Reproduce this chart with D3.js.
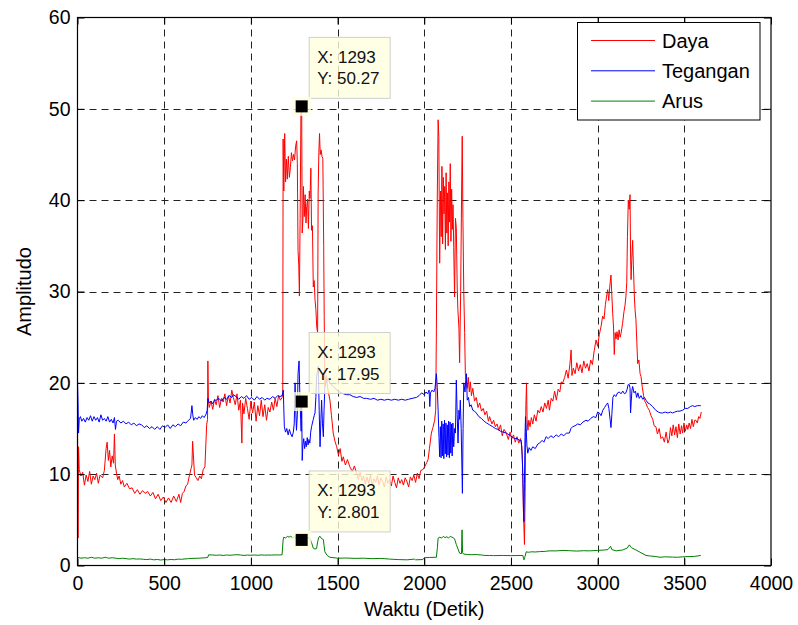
<!DOCTYPE html>
<html>
<head>
<meta charset="utf-8">
<script src="https://cdn.jsdelivr.net/npm/d3@7/dist/d3.min.js"></script>
<style>
  body { margin: 0; background: #fff; }
  svg { display: block; font-family: "Liberation Sans", Arial, sans-serif; }
</style>
</head>
<body>
<svg width="798" height="625"></svg>
<script>
// time (detik) / value pairs
var dayaT = [0,3,6,10,20,30,40,50,60,70,80,90,100,110,120,130,145,155,165,171,178,185,192,200,208,213,218,225,232,240,250,260,270,285,300,315,330,345,360,375,390,405,420,435,450,465,480,495,510,525,540,555,570,585,595,605,615,625,635,645,655,660,664,668,675,685,695,705,715,725,735,745,750,752,755,760,770,780,790,800,810,820,830,840,850,860,870,880,890,899,910,920,930,940,948,952,960,970,980,990,1000,1010,1020,1030,1040,1050,1060,1070,1080,1090,1100,1110,1120,1130,1140,1150,1160,1170,1180,1184,1186,1190,1195,1200,1205,1210,1216,1222,1228,1234,1240,1246,1252,1258,1264,1268,1272,1276,1280,1284,1289,1293,1296,1300,1303,1308,1313,1318,1322,1327,1332,1337,1341,1346,1350,1355,1360,1365,1370,1375,1380,1385,1388,1392,1396,1400,1405,1410,1415,1420,1423,1427,1435,1445,1456,1465,1475,1485,1495,1505,1515,1525,1533,1545,1557,1571,1585,1597,1610,1620,1630,1640,1650,1660,1670,1680,1690,1700,1710,1720,1730,1740,1750,1760,1770,1780,1790,1800,1810,1820,1830,1840,1850,1860,1870,1880,1890,1900,1910,1920,1930,1940,1950,1960,1970,1980,1992,2005,2015,2022,2030,2041,2050,2060,2066,2070,2075,2080,2084,2089,2094,2098,2102,2106,2110,2114,2118,2122,2126,2130,2134,2138,2142,2146,2150,2154,2158,2162,2166,2170,2175,2180,2185,2190,2194,2200,2204,2210,2215,2219,2223,2228,2233,2237,2242,2248,2254,2260,2266,2272,2280,2290,2300,2310,2320,2330,2340,2350,2360,2370,2377,2390,2400,2410,2420,2430,2440,2450,2460,2473,2485,2495,2505,2515,2525,2535,2545,2555,2563,2567,2572,2578,2582,2586,2590,2593,2598,2603,2610,2618,2626,2635,2645,2655,2665,2675,2685,2695,2705,2715,2722,2732,2742,2752,2762,2772,2782,2790,2799,2810,2820,2830,2840,2847,2852,2860,2870,2880,2890,2900,2910,2920,2930,2940,2950,2960,2970,2980,2991,3000,3010,3020,3029,3037,3045,3052,3058,3064,3070,3077,3082,3087,3092,3096,3101,3106,3112,3118,3124,3130,3135,3140,3144,3152,3158,3163,3168,3172,3177,3182,3187,3190,3193,3197,3202,3206,3212,3216,3221,3226,3231,3238,3245,3250,3258,3265,3269,3278,3288,3298,3308,3318,3326,3336,3345,3355,3365,3375,3385,3395,3405,3413,3420,3428,3436,3444,3452,3460,3468,3476,3484,3490,3498,3506,3514,3520,3528,3536,3544,3552,3560,3567,3575,3583,3590,3598];
var dayaV = [15.2,3.0,13.0,10.5,9.8,10.2,8.8,9.9,9.2,10.3,8.9,9.8,9.4,10.1,9.0,9.9,9.6,10.4,12.8,13.5,11.5,12.6,10.8,12.0,11.2,14.4,11.0,10.1,9.4,9.8,8.9,9.3,8.6,9.0,8.4,8.5,7.9,8.3,7.8,8.2,7.9,8.1,7.6,8.0,7.3,7.8,7.1,7.5,6.9,7.4,6.9,7.6,7.0,7.8,6.9,7.9,8.1,8.7,8.9,9.8,10.6,11.0,13.6,12.2,9.9,9.6,9.3,9.8,9.5,10.5,10.8,15.4,16.0,22.4,18.0,17.3,18.0,17.1,18.2,17.6,18.6,17.3,18.3,17.9,18.8,17.5,18.6,17.8,19.2,18.4,17.6,18.8,17.0,18.1,13.4,17.8,16.6,18.3,17.2,16.0,18.0,16.7,17.9,15.8,17.5,16.4,18.1,16.3,17.6,15.9,17.3,16.8,17.9,17.0,18.3,17.4,18.6,18.1,18.4,18.8,46.7,41.0,47.3,42.0,44.5,42.3,44.8,42.5,43.6,45.2,44.3,45.0,44.4,45.9,46.5,44.0,34.5,33.0,29.5,38.0,50.2,50.27,36.4,37.8,41.5,38.2,40.6,37.5,39.3,40.1,36.9,41.0,40.2,43.5,36.7,37.2,30.5,31.2,29.1,28.0,26.1,25.5,40.8,45.2,47.3,45.0,45.5,44.8,44.6,35.0,27.3,19.6,20.8,19.2,18.1,16.4,14.5,13.6,13.0,12.1,12.8,11.4,11.9,11.0,11.6,10.8,10.3,10.9,10.1,9.4,10.2,9.3,9.8,8.9,9.7,9.0,9.9,8.7,9.5,9.1,9.8,8.8,9.6,9.2,8.6,9.7,9.0,9.4,8.7,9.8,9.1,8.5,9.6,9.0,9.4,8.8,9.6,9.2,8.6,9.7,9.3,9.9,9.1,10.1,9.5,10.4,10.5,10.9,11.3,11.6,12.8,14.5,15.1,15.9,17.0,25.8,40.0,48.8,47.0,33.1,41.0,36.0,43.7,35.2,42.5,38.5,41.5,34.6,43.0,36.4,40.8,35.0,42.0,37.6,44.0,35.5,41.2,36.8,39.5,34.8,29.4,38.0,37.0,30.5,28.0,26.0,22.2,30.0,40.0,47.0,38.0,30.0,25.5,21.0,20.3,19.4,20.6,19.0,20.1,18.6,19.4,18.0,18.4,17.3,17.8,16.9,17.2,16.5,16.9,15.8,16.3,15.5,15.9,15.2,15.5,14.8,15.4,14.2,14.9,14.5,13.8,14.6,13.9,14.3,13.5,14.1,13.4,13.9,13.0,11.0,6.0,2.3,8.0,17.5,20.0,16.0,14.8,15.9,15.2,16.2,15.5,16.5,15.8,17.0,16.7,17.4,16.8,17.8,17.2,18.1,17.0,18.3,18.0,19.1,18.1,19.3,19.0,20.1,20.0,20.6,21.4,20.5,22.0,23.6,20.8,21.6,21.0,22.2,21.3,22.0,21.1,22.4,21.6,22.1,21.3,22.5,22.0,23.5,24.7,24.0,25.3,26.2,27.3,27.0,28.6,29.5,30.2,29.0,30.5,31.8,29.6,27.6,26.0,23.1,25.5,24.8,25.6,24.7,25.8,25.0,25.4,26.0,26.5,27.8,28.5,29.4,31.0,36.0,40.0,39.0,40.6,34.0,31.3,33.5,35.6,33.0,29.4,28.0,26.9,24.5,22.1,22.5,21.0,20.7,19.5,18.6,18.1,17.8,17.3,17.0,16.4,16.0,15.3,15.2,14.4,15.0,13.9,14.1,13.5,14.6,13.4,13.8,15.1,14.2,15.4,14.3,15.2,14.0,15.5,14.4,15.3,14.5,15.6,14.7,15.4,14.9,15.6,15.0,16.0,15.2,15.9,15.9,15.6,16.3,16.1,16.8];

var teganganT = [0,3,6,10,17,25,35,45,55,65,75,85,95,105,115,125,135,145,155,165,175,185,195,205,213,219,225,235,250,265,280,295,310,325,340,355,370,385,400,415,430,445,460,475,490,505,520,535,550,565,580,595,610,625,640,652,660,665,670,680,690,700,710,720,730,740,748,752,760,770,780,790,800,815,830,845,860,875,890,899,915,930,945,960,975,990,1005,1020,1035,1050,1065,1080,1092,1110,1125,1140,1155,1168,1180,1187,1193,1200,1207,1215,1222,1230,1238,1245,1250,1255,1259,1263,1268,1272,1278,1282,1287,1290,1293,1296,1300,1305,1310,1315,1320,1325,1330,1335,1340,1345,1350,1355,1360,1365,1370,1375,1379,1384,1389,1394,1399,1404,1408,1413,1418,1422,1427,1435,1441,1447,1455,1465,1475,1490,1505,1520,1535,1550,1571,1590,1610,1630,1650,1667,1690,1710,1730,1750,1770,1790,1810,1830,1850,1870,1890,1910,1930,1955,1970,1985,2000,2010,2020,2028,2032,2036,2045,2055,2062,2066,2070,2075,2080,2085,2089,2093,2097,2101,2105,2109,2113,2117,2121,2125,2129,2133,2137,2141,2145,2149,2153,2157,2161,2165,2170,2175,2180,2185,2190,2195,2200,2204,2208,2213,2217,2220,2224,2228,2235,2240,2243,2248,2255,2262,2270,2280,2290,2300,2315,2330,2345,2360,2377,2395,2410,2425,2440,2455,2473,2490,2505,2520,2535,2550,2559,2565,2569,2573,2575,2578,2581,2584,2588,2592,2597,2605,2615,2626,2640,2655,2665,2680,2690,2703,2715,2730,2745,2761,2775,2790,2805,2820,2837,2846,2856,2870,2885,2900,2915,2933,2945,2960,2975,2990,3000,3010,3020,3030,3040,3050,3058,3065,3072,3077,3082,3088,3096,3105,3115,3125,3135,3145,3155,3163,3170,3176,3183,3187,3190,3194,3198,3202,3210,3218,3225,3232,3240,3250,3260,3270,3279,3290,3300,3317,3335,3350,3365,3375,3390,3405,3420,3432,3445,3460,3475,3490,3505,3520,3535,3547,3560,3575,3595];
var teganganV = [20.3,18.0,14.5,16.0,16.3,15.8,16.1,15.7,16.2,15.9,16.4,15.8,16.3,15.9,16.2,15.7,16.5,15.9,16.1,15.8,16.3,15.7,16.0,15.6,16.2,14.9,15.8,15.9,15.6,15.8,15.5,15.7,15.4,15.6,15.3,15.5,15.4,15.1,15.3,15.0,15.2,14.9,15.2,14.9,15.3,15.1,15.4,15.0,15.4,15.2,15.5,15.3,15.7,15.6,15.9,16.1,17.5,16.5,15.9,16.2,16.0,16.3,16.1,16.4,16.2,16.5,17.0,18.3,17.8,18.0,17.7,18.1,18.1,18.3,18.0,18.4,18.2,18.6,18.4,18.7,18.5,18.2,18.5,18.3,18.6,18.2,18.4,18.1,18.5,18.2,18.4,18.1,18.3,18.2,18.5,18.3,18.6,18.5,18.6,19.2,15.2,14.6,15.0,14.3,14.9,14.4,14.1,14.6,15.5,20.0,17.0,14.8,16.5,21.0,22.4,19.0,16.0,14.7,17.95,11.5,13.2,13.9,12.8,13.6,13.0,14.0,13.2,13.8,13.4,14.6,15.2,15.6,16.0,16.4,16.7,18.5,20.7,21.2,21.8,17.0,13.0,16.0,18.1,15.5,14.1,17.0,19.6,20.1,20.3,20.5,20.0,19.8,19.6,19.3,19.1,18.9,18.8,18.7,18.7,18.5,18.4,18.5,18.3,18.3,18.2,18.3,18.1,18.2,18.1,18.2,18.1,18.2,18.1,18.2,18.1,18.2,18.3,18.4,18.6,18.9,18.7,19.0,18.8,19.2,17.4,18.9,19.2,19.0,19.4,20.2,21.0,19.5,17.0,14.0,11.9,15.2,11.8,15.8,12.0,15.5,11.7,15.9,12.2,15.6,11.9,15.4,12.1,15.8,11.8,15.7,12.3,15.5,12.0,15.6,13.0,15.0,14.5,20.3,16.5,13.4,17.0,16.0,18.1,15.0,11.0,7.9,15.0,20.0,19.0,20.4,21.0,18.1,18.4,17.4,17.6,17.0,16.9,16.7,16.3,16.1,15.8,15.6,15.4,15.2,15.0,14.9,14.7,14.6,14.5,14.3,14.1,13.9,13.9,13.7,13.7,12.0,9.4,5.5,4.8,9.0,14.0,16.3,15.0,13.2,12.3,12.9,12.6,13.0,12.8,13.3,13.4,13.7,13.5,14.1,13.9,14.2,14.0,14.3,14.1,14.4,14.2,14.5,14.5,15.0,15.2,15.3,15.5,15.4,15.7,15.9,15.8,16.1,16.3,16.2,16.8,16.7,16.4,17.0,17.3,17.6,17.8,17.2,16.0,15.1,16.5,18.4,18.7,18.5,18.9,19.0,18.8,19.1,18.8,18.9,19.3,19.8,19.8,19.4,16.7,18.0,19.2,19.6,18.9,19.1,18.4,18.9,18.3,18.6,18.2,18.4,18.1,17.8,17.7,17.4,17.0,16.8,16.7,16.7,16.8,16.7,16.8,16.7,16.8,16.9,16.9,17.0,17.2,17.2,17.4,17.5,17.4,17.5,17.5];

var arusT = [0,20,40,60,80,100,120,140,160,180,200,220,240,260,280,300,320,340,360,380,400,420,440,460,480,500,520,540,560,580,600,620,640,660,700,740,752,756,780,800,820,840,860,880,900,920,940,960,980,1000,1020,1040,1060,1080,1100,1120,1140,1160,1180,1186,1190,1200,1210,1220,1230,1240,1250,1260,1265,1275,1284,1289,1293,1300,1310,1320,1330,1340,1350,1360,1370,1379,1385,1392,1399,1405,1412,1418,1422,1427,1440,1456,1480,1500,1550,1600,1650,1700,1750,1800,1850,1900,1945,1950,1992,2000,2030,2070,2076,2080,2090,2100,2110,2120,2130,2140,2150,2160,2170,2175,2185,2195,2204,2215,2218,2221,2227,2250,2270,2300,2330,2350,2377,2400,2450,2500,2569,2572,2575,2580,2588,2600,2620,2640,2665,2700,2720,2761,2800,2837,2880,2920,2952,3000,3040,3060,3075,3082,3106,3144,3170,3183,3195,3221,3250,3279,3300,3336,3360,3390,3432,3460,3490,3528,3560,3595];
var arusV = [0.9,0.8,0.85,0.8,0.9,0.8,0.85,0.8,0.9,0.8,0.85,0.8,0.75,0.8,0.75,0.7,0.75,0.7,0.72,0.68,0.65,0.7,0.62,0.66,0.6,0.65,0.62,0.66,0.63,0.7,0.68,0.72,0.75,0.78,0.8,0.85,0.9,1.17,1.15,1.12,1.15,1.1,1.15,1.12,1.16,1.18,1.15,1.1,1.14,1.12,1.15,1.12,1.16,1.13,1.15,1.14,1.16,1.15,1.17,2.8,3.1,3.0,3.2,3.1,3.2,3.05,3.15,3.0,3.2,2.9,2.45,2.6,2.801,3.0,2.9,3.0,3.1,2.95,2.5,1.9,1.8,1.85,2.6,3.1,3.2,3.0,2.9,2.85,2.2,1.5,1.1,0.9,0.85,0.8,0.82,0.78,0.8,0.75,0.78,0.7,0.65,0.62,0.7,0.62,0.65,0.85,0.88,0.9,2.0,3.0,3.1,3.0,3.2,3.05,3.15,3.0,3.2,3.1,3.0,2.9,2.3,1.8,1.35,1.3,3.9,1.4,1.25,1.2,1.18,1.2,1.15,1.1,1.1,1.08,1.1,1.08,1.1,0.8,0.62,0.9,1.5,1.45,1.5,1.48,1.52,1.55,1.6,1.6,1.65,1.62,1.58,1.62,1.6,1.65,1.7,1.75,2.1,1.75,1.6,1.7,1.9,2.26,1.95,1.7,1.4,1.1,1.05,0.98,0.9,0.95,0.92,0.9,0.95,0.98,1.0,1.1];

var seriesNames = ["Daya", "Tegangan", "Arus"];
var seriesColors = ["#ff0000", "#0000ff", "#008000"];

var xTicks = [0, 500, 1000, 1500, 2000, 2500, 3000, 3500, 4000];
var yTicks = [0, 10, 20, 30, 40, 50, 60];

// data cursors placed at x = 1293
var tipX = 1293;
var tipY = [50.27, 17.95, 2.801];

var svg = d3.select("svg"),
    plotLeft = 77.5, plotRight = 771, plotTop = 17.5, plotBottom = 565.5;

var x = d3.scaleLinear().domain([0, 4000]).range([plotLeft, plotRight]);
var y = d3.scaleLinear().domain([0, 60]).range([plotBottom, plotTop]);

// dashed grid
svg.append("g").selectAll("line")
    .data(xTicks.slice(1, -1))
    .enter().append("line")
      .attr("x1", function(d) { return Math.round(x(d)) + 0.5; })
      .attr("x2", function(d) { return Math.round(x(d)) + 0.5; })
      .attr("y1", plotTop).attr("y2", plotBottom)
      .attr("stroke", "#222").attr("stroke-dasharray", "7,5");

svg.append("g").selectAll("line")
    .data(yTicks.slice(1, -1))
    .enter().append("line")
      .attr("y1", function(d) { return Math.round(y(d)) + 0.5; })
      .attr("y2", function(d) { return Math.round(y(d)) + 0.5; })
      .attr("x1", plotLeft).attr("x2", plotRight)
      .attr("stroke", "#222").attr("stroke-dasharray", "7,5");

// lines
var series = [
  { t: dayaT, v: dayaV },
  { t: teganganT, v: teganganV },
  { t: arusT, v: arusV }
];

var line = d3.line()
    .x(function(d) { return x(d[0]); })
    .y(function(d) { return y(d[1]); });

series.forEach(function(s, i) {
  var pts = s.t.map(function(t, j) { return [t, s.v[j]]; });
  svg.append("path")
      .datum(pts)
      .attr("fill", "none")
      .attr("stroke", seriesColors[i])
      .attr("stroke-width", 1)
      .attr("d", line);
});

// axes, ticks pointing inward like matlab
function styleAxis(g) {
  g.attr("font-size", 19.5).attr("font-family", "'Liberation Sans', Arial, sans-serif");
  g.select(".domain").remove();
  g.selectAll(".tick line").attr("stroke", "#000");
  g.selectAll("text").attr("fill", "#000");
}

svg.append("g")
    .attr("transform", "translate(0," + plotBottom + ")")
    .call(d3.axisBottom(x).tickValues(xTicks).tickFormat(d3.format("d"))
      .tickSizeInner(-7).tickSizeOuter(0).tickPadding(11))
    .call(styleAxis);

svg.append("g")
    .attr("transform", "translate(0," + plotTop + ")")
    .call(d3.axisTop(x).tickValues(xTicks).tickSizeInner(-7).tickSizeOuter(0).tickFormat(""))
    .call(styleAxis);

svg.append("g")
    .attr("transform", "translate(" + plotLeft + ",0)")
    .call(d3.axisLeft(y).tickValues(yTicks).tickSizeInner(-7).tickSizeOuter(0).tickPadding(7))
    .call(styleAxis);

svg.append("g")
    .attr("transform", "translate(" + plotRight + ",0)")
    .call(d3.axisRight(y).tickValues(yTicks).tickSizeInner(-7).tickSizeOuter(0).tickFormat(""))
    .call(styleAxis);

svg.append("rect")
    .attr("x", plotLeft).attr("y", plotTop)
    .attr("width", plotRight - plotLeft).attr("height", plotBottom - plotTop)
    .attr("fill", "none").attr("stroke", "#000").attr("stroke-width", 1.2);

// axis labels
svg.append("text")
    .attr("x", (plotLeft + plotRight) / 2).attr("y", 616)
    .attr("text-anchor", "middle").attr("font-size", 20)
    .text("Waktu (Detik)");

svg.append("text")
    .attr("transform", "translate(31," + ((plotTop + plotBottom) / 2) + ") rotate(-90)")
    .attr("text-anchor", "middle").attr("font-size", 20)
    .text("Amplitudo");

// legend
var legend = svg.append("g");
legend.append("rect")
    .attr("x", 577.5).attr("y", 22.5).attr("width", 182.5).attr("height", 97.5)
    .attr("fill", "#fff").attr("stroke", "#000");

seriesNames.forEach(function(name, i) {
  var ly = 40.5 + i * 30.3;
  legend.append("line")
      .attr("x1", 591).attr("x2", 655).attr("y1", ly).attr("y2", ly)
      .attr("stroke", seriesColors[i]);
  legend.append("text")
      .attr("x", 662).attr("y", ly + 7.3)
      .attr("font-size", 20)
      .text(name);
});

// data tips
var tips = svg.append("g");
tipY.forEach(function(v) {
  var px = x(tipX), py = y(v);
  var g = tips.append("g");
  g.append("rect")
      .attr("x", px + 7.5).attr("y", py - 69)
      .attr("width", 81).attr("height", 61)
      .attr("fill", "#ffffe0").attr("fill-opacity", 0.8)
      .attr("stroke", "#cfcfcf");
  g.append("text")
      .attr("x", px + 15.5).attr("y", py - 43.5)
      .attr("font-size", 17).attr("fill", "#111")
      .text("X: " + tipX);
  g.append("text")
      .attr("x", px + 15.5).attr("y", py - 22)
      .attr("font-size", 17).attr("fill", "#111")
      .text("Y: " + v);
  g.append("rect")
      .attr("x", px - 9.5).attr("y", py - 9.5)
      .attr("width", 19).attr("height", 19)
      .attr("fill", "#ffffe0").attr("fill-opacity", 0.8);
  g.append("rect")
      .attr("x", px - 6).attr("y", py - 6)
      .attr("width", 12).attr("height", 12)
      .attr("fill", "#000");
});
</script>
</body>
</html>
